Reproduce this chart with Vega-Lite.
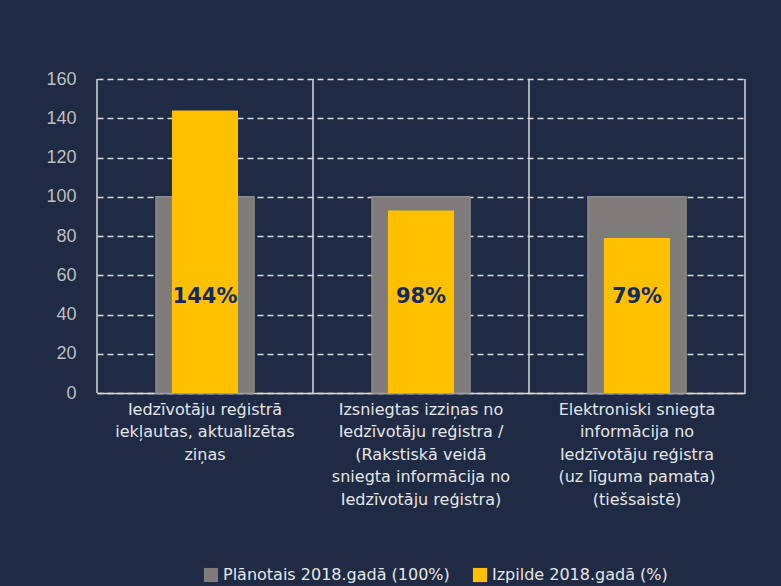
{
  "$schema": "https://vega.github.io/schema/vega-lite/v6.json",
  "width": 648,
  "height": 314,
  "autosize": {"type": "none"},
  "padding": {"left": 97, "top": 79, "right": 36, "bottom": 193},
  "background": "#1f2a44",
  "config": {"view": {"stroke": null}, "font": "DejaVu Sans"},
  "data": {
    "values": [
      {"cat": "Iedzīvotāju reģistrā|iekļautas, aktualizētas|ziņas", "series": "Plānotais 2018.gadā (100%)", "value": 100, "label": ""},
      {"cat": "Izsniegtas izziņas no|Iedzīvotāju reģistra /|(Rakstiskā veidā|sniegta informācija no|Iedzīvotāju reģistra)", "series": "Plānotais 2018.gadā (100%)", "value": 100, "label": ""},
      {"cat": "Elektroniski sniegta|informācija no|Iedzīvotāju reģistra|(uz līguma pamata)|(tiešsaistē)", "series": "Plānotais 2018.gadā (100%)", "value": 100, "label": ""},
      {"cat": "Iedzīvotāju reģistrā|iekļautas, aktualizētas|ziņas", "series": "Izpilde 2018.gadā (%)", "value": 144, "label": "144%"},
      {"cat": "Izsniegtas izziņas no|Iedzīvotāju reģistra /|(Rakstiskā veidā|sniegta informācija no|Iedzīvotāju reģistra)", "series": "Izpilde 2018.gadā (%)", "value": 93, "label": "98%"},
      {"cat": "Elektroniski sniegta|informācija no|Iedzīvotāju reģistra|(uz līguma pamata)|(tiešsaistē)", "series": "Izpilde 2018.gadā (%)", "value": 79, "label": "79%"}
    ]
  },
  "layer": [
    {
      "data": {"values": [{"pos": 0}, {"pos": 1}, {"pos": 2}, {"pos": 3}]},
      "mark": {"type": "rule", "color": "#d9d9d9", "strokeWidth": 1.5},
      "encoding": {
        "x": {"field": "pos", "type": "quantitative", "scale": {"domain": [0, 3], "nice": false, "zero": false}, "axis": null}
      }
    },
    {
      "encoding": {
        "x": {
          "field": "cat", "type": "nominal", "sort": null,
          "scale": {"type": "band", "paddingInner": 0, "paddingOuter": 0},
          "axis": {
            "title": null, "labelAngle": 0, "ticks": false, "domainColor": "#d9d9d9", "domainWidth": 1.5,
            "labelPadding": 8, "labelFontSize": 16, "labelColor": "#e6e6e6", "labelLineHeight": 22.5,
            "labelLimit": 0, "labelExpr": "split(datum.label, '|')"
          }
        },
        "y": {
          "field": "value", "type": "quantitative",
          "scale": {"domain": [0, 160], "nice": false},
          "axis": {
            "title": null, "values": [0, 20, 40, 60, 80, 100, 120, 140, 160], "domain": false, "ticks": false,
            "labelFont": "Liberation Sans", "labelFontSize": 18, "labelColor": "#bfbfbf", "labelPadding": 21,
            "labelOverlap": false,
            "gridColor": "#d9d9d9", "gridDash": [6, 4], "gridWidth": 1.5
          }
        }
      },
      "layer": [
        {
          "transform": [{"filter": "datum.series === 'Plānotais 2018.gadā (100%)'"}],
          "mark": {"type": "bar", "width": {"band": 0.454}, "stroke": "#8e8a89", "strokeWidth": 1.5},
          "encoding": {
            "color": {
              "field": "series", "type": "nominal",
              "scale": {"domain": ["Plānotais 2018.gadā (100%)", "Izpilde 2018.gadā (%)"], "range": ["#7f7b7a", "#ffc000"]},
              "legend": {
                "orient": "none", "legendX": 106, "legendY": 488, "direction": "horizontal", "title": null,
                "symbolType": "square", "symbolSize": 200, "symbolStrokeWidth": 0, "labelFontSize": 16,
                "labelColor": "#e6e6e6", "columnPadding": 22, "labelOffset": 4, "labelLimit": 0
              }
            }
          }
        },
        {
          "transform": [{"filter": "datum.series === 'Izpilde 2018.gadā (%)'"}],
          "mark": {"type": "bar", "width": {"band": 0.306}},
          "encoding": {
            "color": {"field": "series", "type": "nominal"}
          }
        },
        {
          "transform": [{"filter": "datum.series === 'Izpilde 2018.gadā (%)'"}],
          "mark": {"type": "text", "fontWeight": "bold", "fontSize": 21, "color": "#112a66", "baseline": "middle"},
          "encoding": {
            "y": {
              "datum": 49, "type": "quantitative",
              "axis": {
                "title": null, "values": [0, 20, 40, 60, 80, 100, 120, 140, 160], "domain": false, "ticks": false,
                "labelFont": "Liberation Sans", "labelFontSize": 18, "labelColor": "#bfbfbf", "labelPadding": 21,
                "labelOverlap": false,
                "gridColor": "#d9d9d9", "gridDash": [6, 4], "gridWidth": 1.5
              }
            },
            "text": {"field": "label"}
          }
        }
      ]
    }
  ],
  "resolve": {"scale": {"x": "independent"}}
}
